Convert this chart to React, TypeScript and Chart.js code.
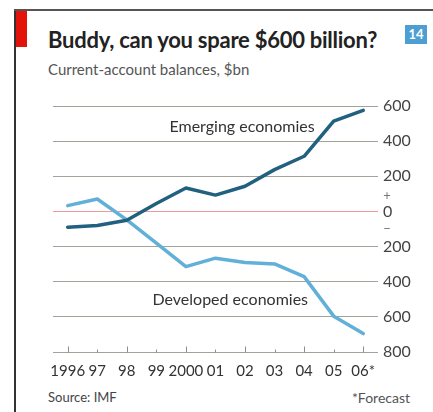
import React, { useEffect, useRef } from "react";
import { Chart, registerables } from "chart.js";
Chart.register(...registerables);

const years = ["1996", "97", "98", "99", "2000", "01", "02", "03", "04", "05", "06*"];
const emerging = [-90, -80, -50, 45, 133, 93, 143, 238, 314, 514, 575];
const developed = [33, 71, -48, -180, -314, -266, -291, -299, -371, -596, -695];
const yMin = -800;
const yMax = 600;
const yStep = 200;
const emergingLabel = { text: "Emerging economies", x: 5.9, y: 480 };
const developedLabel = { text: "Developed economies", x: 5.5, y: -505 };

const FONT = "Lato, 'Open Sans', 'Noto Sans', sans-serif";

const decor = {
  id: "decor",
  afterDatasetsDraw(chart: any) {
    const { ctx, scales } = chart;
    const x = scales.x;
    const y = scales.y;
    ctx.save();
    ctx.fillStyle = "#333";
    ctx.font = "16px " + FONT;
    ctx.textAlign = "center";
    ctx.textBaseline = "middle";
    [emergingLabel, developedLabel].forEach((l) => {
      const px = x.left + ((x.right - x.left) / years.length) * (l.x + 0.5);
      ctx.fillText(l.text, px, y.getPixelForValue(l.y));
    });
    ctx.restore();
  },
  afterDraw(chart: any) {
    const { ctx, scales } = chart;
    const x = scales.x;
    const y = scales.y;
    const base = Math.round(y.getPixelForValue(yMin)) + 0.5;
    ctx.save();
    ctx.strokeStyle = "#8d9278";
    ctx.lineWidth = 1;
    years.forEach((_, i) => {
      const px = Math.round(x.getPixelForValue(i)) + 0.5;
      const h = i % 2 === 0 ? 6 : 3;
      ctx.beginPath();
      ctx.moveTo(px, base);
      ctx.lineTo(px, base - h);
      ctx.stroke();
    });
    ctx.fillStyle = "#777";
    ctx.font = "13px " + FONT;
    ctx.textAlign = "center";
    ctx.textBaseline = "middle";
    const lx = y.left + 9;
    const z = y.getPixelForValue(0);
    const step = y.getPixelForValue(0) - y.getPixelForValue(yStep);
    ctx.fillText("+", lx, z - step * 0.45);
    ctx.fillText("\u2212", lx, z + step * 0.5);
    ctx.restore();
  },
};

function ChartBox() {
  const ref = useRef<HTMLCanvasElement>(null);
  useEffect(() => {
    const chart = new Chart(ref.current as HTMLCanvasElement, {
      type: "line",
      data: {
        labels: years,
        datasets: [
          {
            label: "Emerging economies",
            data: emerging,
            borderColor: "#21607f",
            borderWidth: 3.5,
            pointRadius: 0,
            tension: 0,
            borderJoinStyle: "round",
            borderCapStyle: "round",
          },
          {
            label: "Developed economies",
            data: developed,
            borderColor: "#62afd8",
            borderWidth: 3.5,
            pointRadius: 0,
            tension: 0,
            borderJoinStyle: "round",
            borderCapStyle: "round",
          },
        ],
      },
      options: {
        animation: false,
        responsive: true,
        maintainAspectRatio: false,
        events: [],
        layout: { padding: { top: 16, left: 7, right: 0, bottom: 0 } },
        plugins: { legend: { display: false }, tooltip: { enabled: false }, title: { display: false } },
        scales: {
          x: {
            type: "category",
            offset: true,
            grid: { display: false, drawTicks: false },
            border: { display: false },
            ticks: {
              color: "#333",
              font: { family: FONT, size: 15 },
              padding: 10,
              maxRotation: 0,
              autoSkip: false,
            },
            afterFit: (s: any) => {
              s.height = 30;
            },
          },
          y: {
            position: "right",
            min: yMin,
            max: yMax,
            ticks: {
              stepSize: yStep,
              color: "#444",
              font: { family: FONT, size: 16 },
              padding: 5,
              callback: (v: any) => String(Math.abs(Number(v))),
            },
            grid: {
              drawTicks: false,
              lineWidth: 1,
              color: (c: any) => (c.tick && c.tick.value === 0 ? "#ec9a9a" : "#a3a39a"),
            },
            border: { display: false },
            afterFit: (s: any) => {
              s.width = 55;
            },
          },
        },
      },
      plugins: [decor],
    });
    return () => chart.destroy();
  }, []);
  return <canvas ref={ref} />;
}

export default function App() {
  return (
    <div
      style={{
        position: "absolute",
        left: 0,
        top: 0,
        width: 433,
        height: 412,
        background: "#fff",
        overflow: "hidden",
        fontFamily: FONT,
      }}
    >
      <div style={{ position: "absolute", left: 14, top: 9, width: 2, height: 403, background: "#333" }} />
      <div style={{ position: "absolute", left: 14, top: 9, width: 419, height: 2, background: "#555" }} />
      <div style={{ position: "absolute", left: 16, top: 11, width: 11, height: 36, background: "#e3120b" }} />
      <div
        style={{
          position: "absolute",
          left: 405,
          top: 25,
          width: 22,
          height: 19,
          background: "#4d9fd3",
          color: "#fff",
          fontWeight: 700,
          fontSize: 13,
          lineHeight: "19px",
          textAlign: "center",
        }}
      >
        14
      </div>
      <div
        style={{
          position: "absolute",
          left: 48,
          top: 28,
          fontSize: 22,
          lineHeight: "24px",
          fontWeight: 700,
          letterSpacing: "-0.25px",
          color: "#222",
          whiteSpace: "nowrap",
        }}
      >
        Buddy, can you spare $600 billion?
      </div>
      <div
        style={{
          position: "absolute",
          left: 48,
          top: 60,
          fontSize: 15,
          lineHeight: "18px",
          color: "#555",
          whiteSpace: "nowrap",
        }}
      >
        Current-account balances, $bn
      </div>
      <div style={{ position: "absolute", left: 40, top: 90, width: 393, height: 292 }}>
        <ChartBox />
      </div>
      <div style={{ position: "absolute", left: 48, top: 390, fontSize: 13, lineHeight: "15px", color: "#444" }}>
        Source: IMF
      </div>
      <div style={{ position: "absolute", right: 23, top: 390, fontSize: 14, lineHeight: "15px", color: "#555" }}>
        *Forecast
      </div>
    </div>
  );
}
